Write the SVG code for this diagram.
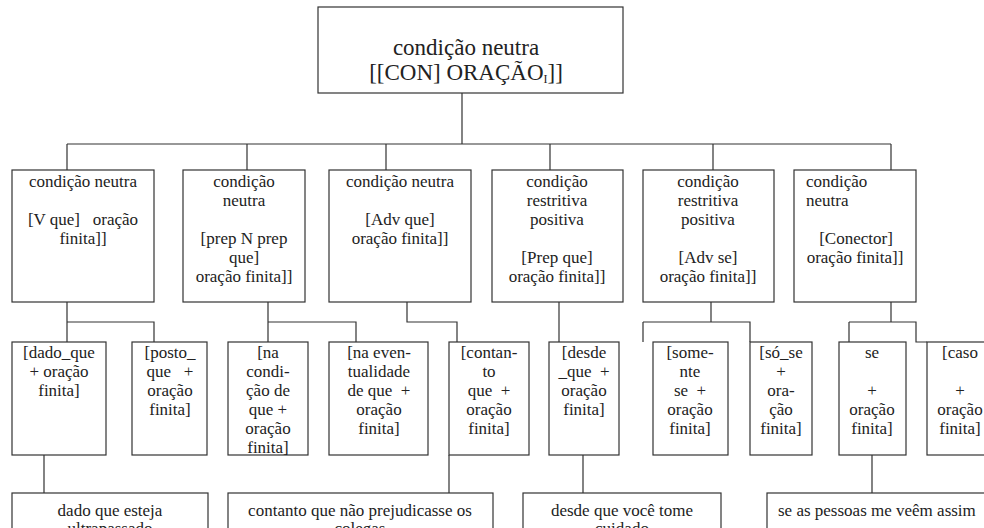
<svg xmlns="http://www.w3.org/2000/svg" width="984" height="528" viewBox="0 0 984 528">
<style>
.b{fill:#fff;stroke:#333;stroke-width:1.2}
.c{fill:none;stroke:#333;stroke-width:1.2}
text{font-family:"Liberation Serif","DejaVu Serif","Times New Roman",serif;font-size:17px;fill:#222;text-anchor:middle}
.t{font-size:23px}
.l{text-anchor:start}
</style>
<rect width="984" height="528" fill="#fff"/>
<g id="connectors">
<path class="c" d="M462,93V144M67,144H891M67,144V170M247,144V170M386,144V170M550,144V170M713,144V170M891,144V170"/>
<path class="c" d="M67,302V342M67,322H154V342"/>
<path class="c" d="M268,302V342M268,322H356V342"/>
<path class="c" d="M407,302V322H457V342"/>
<path class="c" d="M559,302V342"/>
<path class="c" d="M711,302V322M643,322H750V342M643,322V342"/>
<path class="c" d="M891,302V322M849,322H916V342H927M849,322V342"/>
<path class="c" d="M44,455V493M449,455V493M583,455V493M872,455V493"/>
</g>
<g id="root">
<rect class="b" x="318" y="7" width="305" height="86"/>
<text class="t" x="466" y="55">condição neutra</text>
<text class="t" x="466" y="80">[[CON] ORAÇÃO<tspan font-size="12" dy="3">I</tspan><tspan dy="-3">]]</tspan></text>
</g>
<g id="n1">
<rect class="b" x="12" y="170" width="142" height="132"/>
<text x="83" y="187">condição neutra</text>
<text x="83" y="225" xml:space="preserve">[V que]   oração</text>
<text x="83" y="244">finita]]</text>
</g>
<g id="n2">
<rect class="b" x="183" y="170" width="122" height="132"/>
<text x="244" y="187">condição</text>
<text x="244" y="206">neutra</text>
<text x="244" y="244">[prep N prep</text>
<text x="244" y="263">que]</text>
<text x="244" y="282">oração finita]]</text>
</g>
<g id="n3">
<rect class="b" x="329" y="170" width="142" height="132"/>
<text x="400" y="187">condição neutra</text>
<text x="400" y="225">[Adv que]</text>
<text x="400" y="244">oração finita]]</text>
</g>
<g id="n4">
<rect class="b" x="492" y="170" width="131" height="132"/>
<text x="557" y="187">condição</text>
<text x="557" y="206">restritiva</text>
<text x="557" y="225">positiva</text>
<text x="557" y="263">[Prep que]</text>
<text x="557" y="282">oração finita]]</text>
</g>
<g id="n5">
<rect class="b" x="643" y="170" width="131" height="132"/>
<text x="708" y="187">condição</text>
<text x="708" y="206">restritiva</text>
<text x="708" y="225">positiva</text>
<text x="708" y="263">[Adv se]</text>
<text x="708" y="282">oração finita]]</text>
</g>
<g id="n6">
<rect class="b" x="794" y="170" width="122" height="132"/>
<text class="l" x="806" y="187">condição</text>
<text class="l" x="806" y="206">neutra</text>
<text x="856" y="244">[Conector]</text>
<text x="855" y="263">oração finita]]</text>
</g>
<g id="a">
<rect class="b" x="12" y="342" width="94" height="113"/>
<text x="59" y="358">[dado_que</text>
<text x="59" y="377">+ oração</text>
<text x="59" y="396">finita]</text>
</g>
<g id="b">
<rect class="b" x="132" y="342" width="75" height="113"/>
<text x="170" y="358">[posto_</text>
<text x="170" y="377" xml:space="preserve">que   +</text>
<text x="170" y="396">oração</text>
<text x="170" y="415">finita]</text>
</g>
<g id="c">
<rect class="b" x="228" y="342" width="80" height="113"/>
<text x="268" y="358">[na</text>
<text x="268" y="377">condi-</text>
<text x="268" y="396">ção de</text>
<text x="268" y="415">que +</text>
<text x="268" y="434">oração</text>
<text x="268" y="453">finita]</text>
</g>
<g id="d">
<rect class="b" x="329" y="342" width="99" height="113"/>
<text x="379" y="358">[na even-</text>
<text x="379" y="377">tualidade</text>
<text x="379" y="396" xml:space="preserve">de que  +</text>
<text x="379" y="415">oração</text>
<text x="379" y="434">finita]</text>
</g>
<g id="e">
<rect class="b" x="449" y="342" width="80" height="113"/>
<text x="489" y="358">[contan-</text>
<text x="489" y="377">to</text>
<text x="489" y="396" xml:space="preserve">que  +</text>
<text x="489" y="415">oração</text>
<text x="489" y="434">finita]</text>
</g>
<g id="f">
<rect class="b" x="549" y="342" width="70" height="113"/>
<text x="584" y="358">[desde</text>
<text x="584" y="377" xml:space="preserve">_que  +</text>
<text x="584" y="396">oração</text>
<text x="584" y="415">finita]</text>
</g>
<g id="g">
<rect class="b" x="653" y="342" width="75" height="113"/>
<text x="690" y="358">[some-</text>
<text x="690" y="377">nte</text>
<text x="690" y="396" xml:space="preserve">se  +</text>
<text x="690" y="415">oração</text>
<text x="690" y="434">finita]</text>
</g>
<g id="h">
<rect class="b" x="750" y="342" width="62" height="113"/>
<text x="781" y="358">[só_se</text>
<text x="781" y="377">+</text>
<text x="781" y="396">ora-</text>
<text x="781" y="415">ção</text>
<text x="781" y="434">finita]</text>
</g>
<g id="i">
<rect class="b" x="839" y="342" width="67" height="113"/>
<text x="872" y="358">se</text>
<text x="872" y="396">+</text>
<text x="872" y="415">oração</text>
<text x="872" y="434">finita]</text>
</g>
<g id="j">
<rect class="b" x="927" y="342" width="66" height="113"/>
<text x="960" y="358">[caso</text>
<text x="960" y="396">+</text>
<text x="960" y="415">oração</text>
<text x="960" y="434">finita]</text>
</g>
<g id="ex1">
<rect class="b" x="12" y="493" width="196" height="50"/>
<text x="110" y="516">dado que esteja</text>
<text x="110" y="534">ultrapassado</text>
</g>
<g id="ex2">
<rect class="b" x="228" y="493" width="265" height="50"/>
<text x="360" y="516">contanto que não prejudicasse os</text>
<text x="360" y="534">colegas</text>
</g>
<g id="ex3">
<rect class="b" x="523" y="493" width="198" height="50"/>
<text x="622" y="516">desde que você tome</text>
<text x="622" y="534">cuidado</text>
</g>
<g id="ex4">
<rect class="b" x="767" y="493" width="230" height="50"/>
<text class="l" x="778" y="516">se as pessoas me veêm assim</text>
</g>
</svg>
